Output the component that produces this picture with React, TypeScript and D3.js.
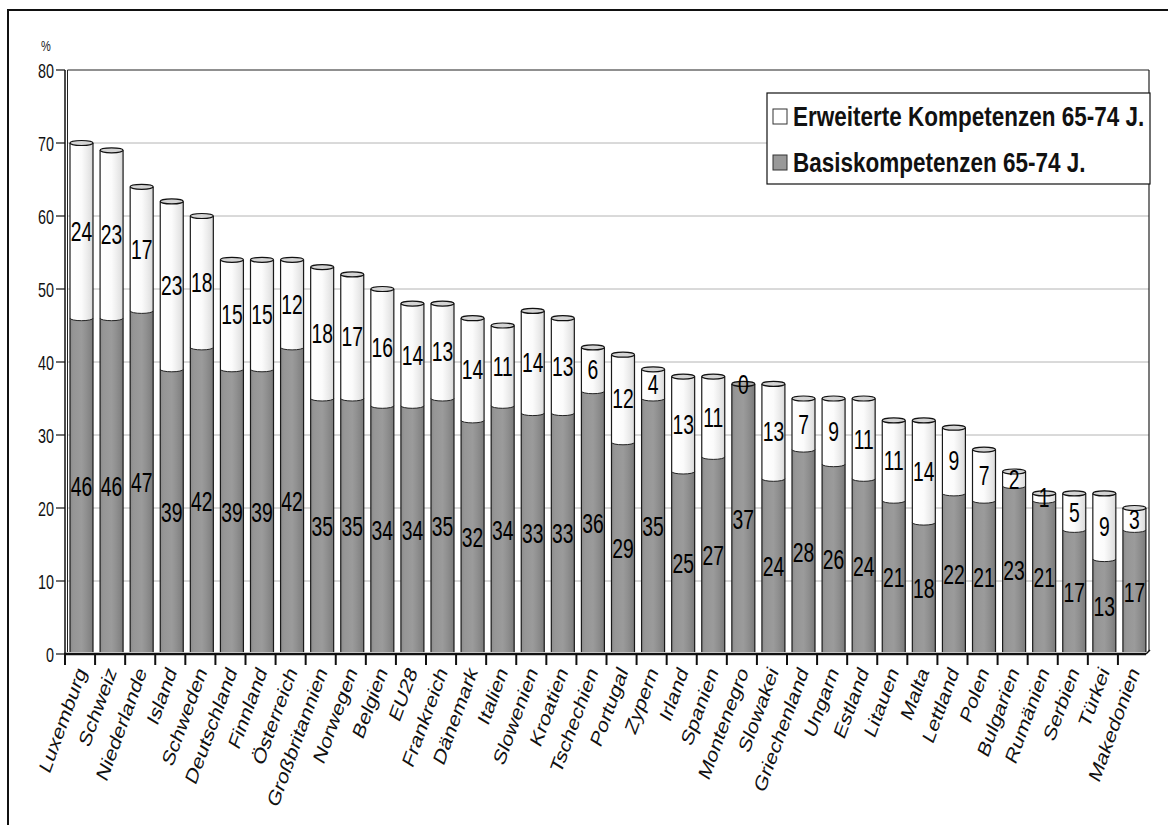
import React from "react";
import * as d3 from "d3";

const countries = [
  "Luxemburg", "Schweiz", "Niederlande", "Island", "Schweden", "Deutschland", "Finnland", "Österreich",
  "Großbritannien", "Norwegen", "Belgien", "EU28", "Frankreich", "Dänemark", "Italien", "Slowenien",
  "Kroatien", "Tschechien", "Portugal", "Zypern", "Irland", "Spanien", "Montenegro", "Slowakei",
  "Griechenland", "Ungarn", "Estland", "Litauen", "Malta", "Lettland", "Polen", "Bulgarien",
  "Rumänien", "Serbien", "Türkei", "Makedonien",
];
const basis = [46, 46, 47, 39, 42, 39, 39, 42, 35, 35, 34, 34, 35, 32, 34, 33, 33, 36, 29, 35, 25, 27, 37, 24, 28, 26, 24, 21, 18, 22, 21, 23, 21, 17, 13, 17];
const erweitert = [24, 23, 17, 23, 18, 15, 15, 12, 18, 17, 16, 14, 13, 14, 11, 14, 13, 6, 12, 4, 13, 11, 0, 13, 7, 9, 11, 11, 14, 9, 7, 2, 1, 5, 9, 3];
const yTicks = [0, 10, 20, 30, 40, 50, 60, 70, 80];
const legendLabels = ["Erweiterte Kompetenzen 65-74 J.", "Basiskompetenzen 65-74 J."];

const SANS = "'Liberation Sans', Arial, sans-serif";

export default function App() {
  const W = 1168, H = 825;
  const x = d3.scaleBand<string>().domain(countries).range([65, 1148]).padding(0);
  const y = d3.scaleLinear().domain([0, 80]).range([654, 70]);
  const bw = 23;
  const ry = 2.5;
  const kText = 1.24;

  return (
    <svg width={W} height={H} style={{ position: "absolute", left: 0, top: 0, background: "#fff" }}>
      <defs>
        <linearGradient id="gGray" x1="0" x2="1" y1="0" y2="0">
          <stop offset="0" stopColor="#8c8c8c" />
          <stop offset="0.15" stopColor="#969696" />
          <stop offset="0.5" stopColor="#9b9b9b" />
          <stop offset="0.7" stopColor="#909090" />
          <stop offset="0.85" stopColor="#868686" />
          <stop offset="1" stopColor="#7a7a7a" />
        </linearGradient>
        <linearGradient id="gWhite" x1="0" x2="1" y1="0" y2="0">
          <stop offset="0" stopColor="#ffffff" />
          <stop offset="0.5" stopColor="#fbfbfb" />
          <stop offset="0.72" stopColor="#eeeeee" />
          <stop offset="0.9" stopColor="#e2e2e2" />
          <stop offset="1" stopColor="#d2d2d2" />
        </linearGradient>
      </defs>

      {/* outer frame */}
      <path d={`M8,${H} L8,10 L${W},10`} fill="none" stroke="#111" strokeWidth={2} />

      {/* gridlines */}
      {yTicks.filter((t) => t > 0 && t < 80).map((t) => (
        <line key={"g" + t} x1={67.5} x2={1149} y1={y(t)} y2={y(t)} stroke="#b4b4b4" strokeWidth={1} />
      ))}
      {/* plot frame */}
      <line x1={67.5} x2={1149} y1={y(80)} y2={y(80)} stroke="#222" strokeWidth={1.2} />
      <line x1={1149} x2={1149} y1={y(80)} y2={651} stroke="#222" strokeWidth={1.2} />
      <line x1={65} x2={65} y1={y(80)} y2={654} stroke="#111" strokeWidth={1.5} />
      <line x1={67.5} x2={67.5} y1={y(80)} y2={652} stroke="#222" strokeWidth={1} />

      {/* y axis ticks */}
      {yTicks.map((t) => (
        <g key={"yt" + t}>
          <line x1={56} x2={65} y1={y(t)} y2={y(t)} stroke="#111" strokeWidth={1.2} />
          <g transform={`translate(54,${y(t)}) scale(0.82,1.2)`}>
            <text x={0} y={6.3} textAnchor="end" fontFamily={SANS} fontSize={17.5} fill="#111">
              {t}
            </text>
          </g>
        </g>
      ))}
      <g transform="translate(41,51) scale(0.85,1.1)">
        <text x={0} y={0} fontFamily={SANS} fontSize={13} fill="#222">%</text>
      </g>

      {/* bars */}
      {countries.map((c, i) => {
        const x0 = (x(c) as number) + 5;
        const cx = x0 + bw / 2;
        const b = basis[i];
        const e = erweitert[i];
        const yb = y(b);
        const yt = y(b + e);
        const y0 = 652;
        return (
          <g key={c}>
            <rect x={x0} y={yb} width={bw} height={y0 - yb} fill="url(#gGray)" />
            {e > 0 && (
              <path
                d={`M${x0},${yt} L${x0},${yb} A${bw / 2},${ry} 0 0 0 ${x0 + bw},${yb} L${x0 + bw},${yt} Z`}
                fill="url(#gWhite)"
              />
            )}
            {e > 0 && (
              <path d={`M${x0},${yb} A${bw / 2},${ry} 0 0 0 ${x0 + bw},${yb}`} fill="none" stroke="#222" strokeWidth={1} />
            )}
            <line x1={x0} x2={x0} y1={yt} y2={y0} stroke="#1a1a1a" strokeWidth={1.2} />
            <line x1={x0 + bw} x2={x0 + bw} y1={yt} y2={y0} stroke="#1a1a1a" strokeWidth={1.2} />
            <ellipse cx={cx} cy={yt} rx={bw / 2} ry={ry} fill={e > 0 ? "#d4d4d4" : "#a8a8a8"} stroke="#111" strokeWidth={1.2} />
            {/* labels */}
            <g transform={`translate(${cx},${y(b / 2)}) scale(0.84,1.21)`}>
              <text x={0} y={8.2} textAnchor="middle" fontFamily={SANS} fontSize={23} fill="#000">{b}</text>
            </g>
            <g transform={`translate(${cx},${y(b + e / 2)}) scale(0.84,1.21)`}>
              <text x={0} y={8.2} textAnchor="middle" fontFamily={SANS} fontSize={23} fill="#000">{e}</text>
            </g>
          </g>
        );
      })}

      {/* x axis */}
      <line x1={64} x2={1146} y1={654} y2={654} stroke="#111" strokeWidth={2.5} />
      <line x1={1146} x2={1150} y1={654} y2={650} stroke="#111" strokeWidth={1.5} />
      {countries.map((c) => (
        <line key={"xt" + c} x1={x(c) as number} x2={x(c) as number} y1={654} y2={665} stroke="#111" strokeWidth={2} />
      ))}
      {countries.map((c) => {
        const cx = (x(c) as number) + x.bandwidth() / 2;
        return (
          <g key={"xl" + c} transform={`translate(${cx + 7},672) scale(1,1.3) rotate(-64.5)`}>
            <text x={0} y={0} textAnchor="end" fontFamily={SANS} fontSize={17.5} fill="#111">{c}</text>
          </g>
        );
      })}

      {/* legend */}
      <rect x={767} y={93} width={383} height={91} fill="#fff" stroke="#111" strokeWidth={1.2} />
      <rect x={773} y={109} width={14} height={15} fill="#fff" stroke="#333" strokeWidth={1} />
      <rect x={773} y={155} width={14} height={15} fill="#999" stroke="#333" strokeWidth={1} />
      {legendLabels.map((l, i) => (
        <g key={l} transform={`translate(793,${126 + i * 46}) scale(1,${kText})`}>
          <text x={0} y={0} fontFamily={SANS} fontWeight="bold" fontSize={22.5} fill="#111">{l}</text>
        </g>
      ))}
    </svg>
  );
}
